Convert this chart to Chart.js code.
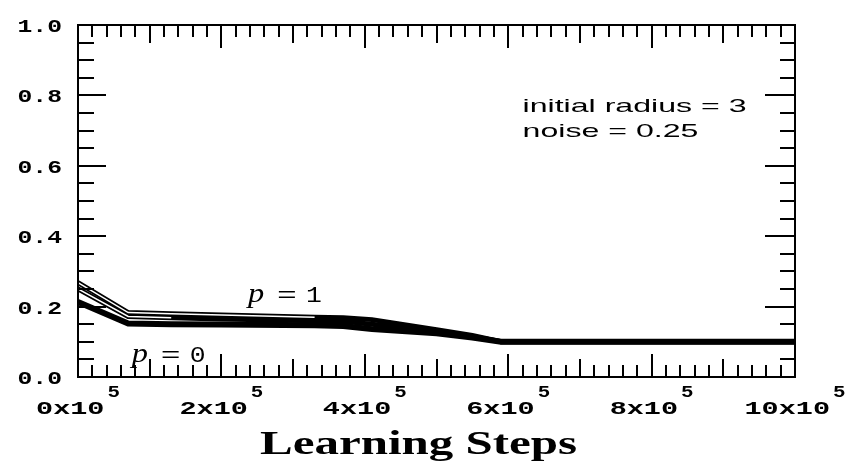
<!DOCTYPE html>
<html>
<head>
<meta charset="utf-8">
<script src="https://cdn.jsdelivr.net/npm/chart.js@4/dist/chart.umd.min.js"></script>
<style>
  html, body { margin: 0; padding: 0; background: #fff; }
</style>
</head>
<body>
<canvas id="myChart" width="852" height="461"></canvas>
<script>
// learning steps (x) and curve values
const steps = [0, 70000, 130000, 200000, 330000, 370000, 410000, 500000, 550000, 590000, 1000000]
const p1 = [0.268, 0.183, 0.180, 0.176, 0.170, 0.168, 0.163, 0.134, 0.118, 0.100, 0.100]
const pMid = [0.250, 0.172, 0.168, 0.165, 0.160, 0.158, 0.150, 0.129, 0.115, 0.100, 0.100]
const p0 = [0.213, 0.152, 0.150, 0.149, 0.147, 0.145, 0.136, 0.124, 0.112, 0.100, 0.100]

const xTickLabels = ['0', '2', '4', '6', '8', '10']
const yTickLabels = ['0.0', '0.2', '0.4', '0.6', '0.8', '1.0']
const notes = ['initial radius = 3', 'noise = 0.25']

const toPoints = (ys, n) => ys.slice(0, n || ys.length).map((y, i) => ({ x: steps[i], y: y }))

function stretchText(ctx, text, x, y, font, sx, align) {
  ctx.save()
  ctx.font = font
  ctx.textAlign = 'left'
  ctx.textBaseline = 'alphabetic'
  const w = ctx.measureText(text).width * sx
  let left = x
  if (align === 'center') left = x - w / 2
  if (align === 'right') left = x - w
  ctx.translate(left, y)
  ctx.scale(sx, 1)
  ctx.fillText(text, 0, 0)
  ctx.restore()
  return w
}

const frame = {
  id: 'frame',
  afterDraw(chart) {
    const ctx = chart.ctx
    const { left, right, top, bottom } = chart.chartArea
    const xs = chart.scales.x
    const ys = chart.scales.y
    ctx.save()
    ctx.strokeStyle = '#000'
    ctx.fillStyle = '#000'
    ctx.lineWidth = 2
    ctx.strokeRect(left, top, right - left, bottom - top)

    // y ticks, every 0.05, long at 0.2
    ctx.beginPath()
    for (let i = 0; i <= 20; i++) {
      const py = Math.round(ys.getPixelForValue(i * 0.05))
      const major = i % 4 === 0
      ctx.moveTo(left, py); ctx.lineTo(left + (major ? 28 : 16), py)
      ctx.moveTo(right, py); ctx.lineTo(right - (major ? 30 : 15), py)
    }
    // x ticks, every 20000, medium at 1e5, long at 2e5
    for (let i = 0; i <= 50; i++) {
      const px = Math.round(xs.getPixelForValue(i * 20000))
      let len = 12
      if (i % 10 === 0) len = 23
      else if (i % 5 === 0) len = 18
      ctx.moveTo(px, bottom); ctx.lineTo(px, bottom - len)
      ctx.moveTo(px, top); ctx.lineTo(px, top + len)
    }
    ctx.stroke()

    const mono = 'bold 19px "Liberation Mono"'
    // y tick labels
    yTickLabels.forEach((t, i) => {
      const py = ys.getPixelForValue(i * 0.2)
      stretchText(ctx, t, left - 16, py + 7, mono, 1.3, 'right')
    })

    // x tick labels with superscript exponent
    xTickLabels.forEach((t, i) => {
      const px = xs.getPixelForValue(i * 200000)
      const supFont = 'bold 16px "Liberation Mono"'
      ctx.font = mono
      const w1 = ctx.measureText(t + 'x10').width * 1.5
      ctx.font = supFont
      const w2 = ctx.measureText('5').width * 1.3
      const start = px - (w1 + 3 + w2) / 2
      stretchText(ctx, t + 'x10', start, bottom + 37, mono, 1.5, 'left')
      stretchText(ctx, '5', start + w1 + 3, bottom + 20, supFont, 1.3, 'left')
    })

    // axis title
    ctx.font = 'bold 33px "Liberation Serif"'
    const tw = ctx.measureText('Learning Steps').width
    stretchText(ctx, 'Learning Steps', xs.getPixelForValue(475000), bottom + 77,
      'bold 33px "Liberation Serif"', 317 / tw, 'center')

    // notes
    const sans = '19px "Liberation Sans"'
    ctx.font = sans
    const nsx = 224 / ctx.measureText(notes[0]).width
    stretchText(ctx, notes[0], xs.getPixelForValue(620000), ys.getPixelForValue(0.753), sans, nsx, 'left')
    stretchText(ctx, notes[1], xs.getPixelForValue(620000), ys.getPixelForValue(0.682), sans, nsx, 'left')

    // curve labels
    const curveLabel = (xv, yv, num) => {
      const px = xs.getPixelForValue(xv)
      const py = ys.getPixelForValue(yv)
      stretchText(ctx, 'p', px, py, 'italic 27px "Liberation Serif"', 1.2, 'left')
      stretchText(ctx, '=', px + 29, py, '22px "Liberation Mono"', 1.5, 'left')
      stretchText(ctx, num, px + 58, py, '22px "Liberation Mono"', 1.2, 'left')
    }
    curveLabel(237000, 0.212, '1')
    curveLabel(75000, 0.043, '0')
    ctx.restore()
  }
}

const lineStyle = { pointRadius: 0, tension: 0, fill: false, borderJoinStyle: 'miter' }

const config = {
  type: 'line',
  data: {
    datasets: [
      { ...lineStyle, label: 'p=1 core', data: toPoints(p1, 5), borderColor: '#fff', borderWidth: 1.5, order: 1 },
      { ...lineStyle, label: 'mid core', data: toPoints(pMid, 3), borderColor: '#fff', borderWidth: 1.5, order: 2 },
      { ...lineStyle, label: 'p=1', data: toPoints(p1), borderColor: '#000', borderWidth: 5, order: 3 },
      { ...lineStyle, label: 'mid', data: toPoints(pMid), borderColor: '#000', borderWidth: 5, order: 4 },
      { ...lineStyle, label: 'p=0', data: toPoints(p0), borderColor: '#000', borderWidth: 6, order: 5 }
    ]
  },
  options: {
    responsive: false,
    animation: false,
    layout: { padding: { left: 78, right: 57, top: 25, bottom: 84 } },
    plugins: { legend: { display: false }, tooltip: { enabled: false } },
    scales: {
      x: { type: 'linear', min: 0, max: 1000000, display: false },
      y: { type: 'linear', min: 0, max: 1, display: false }
    }
  },
  plugins: [frame]
}

const myChart = new Chart(document.getElementById('myChart'), config)
</script>
</body>
</html>
